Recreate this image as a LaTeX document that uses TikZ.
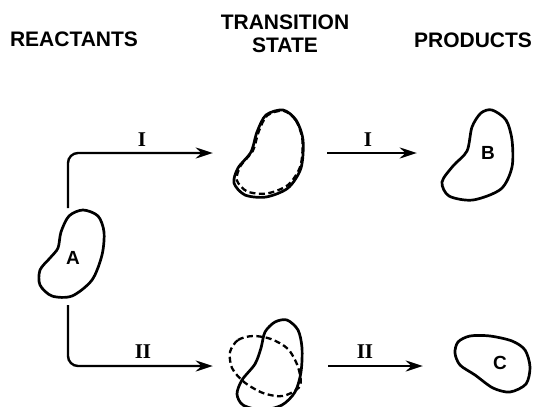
\documentclass[tikz,border=0pt]{standalone}
\usepackage{fontspec}
\setsansfont{Liberation Sans}
\setmainfont{Liberation Serif}
\usetikzlibrary{arrows.meta}
\tikzset{
  bean/.style={line width=2.7pt, line join=round},
  tsdash/.style={line width=2.3pt, dash pattern=on 6pt off 3.5pt},
  flow/.style={line width=2.4pt, -{Stealth[length=17pt, width=11pt]}, rounded corners=10pt},
  head/.style={inner sep=0pt, align=center, font=\sffamily\bfseries\fontsize{21}{23}\selectfont},
  beanlbl/.style={inner sep=0pt, font=\sffamily\bfseries\fontsize{19}{20}\selectfont},
  route/.style={inner sep=0pt, font=\rmfamily\bfseries\fontsize{21}{22}\selectfont},
  hold/.style={minimum width=70pt, minimum height=88pt, inner sep=0pt},
}
\begin{document}
\begin{tikzpicture}[x=1pt, y=-1pt]
  \useasboundingbox (0,0) rectangle (539,407);
  % column headings
  \node[head] (react) at (74,39) {REACTANTS};
  \node[head] (trans) at (285,33.5) {TRANSITION\\STATE};
  \node[head] (prod)  at (473,40) {PRODUCTS};
  % reactant
  \draw[bean] plot[smooth cycle] coordinates {(83,210) (98,216) (104,232) (102,255) (92,280) (72,296) (52,296) (40,285) (40,270) (50,258) (58,248) (61,232) (69,216)};
  \node[beanlbl] (A) at (73,258) {A};
  % transition states
  \draw[bean] plot[smooth cycle] coordinates {(283,110) (296,120) (303,140) (301,168) (288,188) (266,197) (245,195) (234,183) (238,168) (251,152) (257,132) (266,115)};
  \draw[tsdash, shift={(290,125)}, scale=0.95, shift={(-290,-125)}] plot[smooth cycle] coordinates {(283,110) (296,120) (303,140) (301,168) (288,188) (266,197) (245,195) (234,183) (238,168) (251,152) (257,132) (266,115)};
  \draw[bean] plot[smooth cycle] coordinates {(287,320) (298,330) (302,348) (301,372) (295,392) (282,405) (262,410) (243,405) (237,394) (242,380) (255,364) (261,348) (265,332) (275,322)};
  \draw[tsdash] plot[smooth cycle] coordinates {(230,352) (238,340) (253,336) (271,339) (288,349) (298,367) (300,386) (283,396) (263,393) (244,382) (232,368)};
  % products
  \draw[bean] plot[smooth cycle] coordinates {(492,110) (506,120) (512,140) (512,167) (501,189) (473,200) (449,196) (442,182) (453,166) (467,151) (472,127) (481,113)};
  \node[beanlbl] (B) at (488,153) {B};
  \draw[bean] plot[smooth cycle] coordinates {(458,342) (470,336) (490,336) (512,341) (525,350) (530,367) (526,384) (510,392) (493,388) (475,375) (460,365) (455,353)};
  \node[beanlbl] (C) at (500,363) {C};
  % arrow ends
  \node[hold] (tsI)   at (268,153) {};
  \node[hold] (tsII)  at (268,366) {};
  \node[hold] (prodB) at (477,153) {};
  \node[hold, minimum width=76pt] (prodC) at (492,366) {};
  \coordinate (A-top) at (68,208);
  \coordinate (A-bot) at (68,305);
  % pathways
  \draw[flow, shorten >=20pt] (A-top) |- (tsI.west);
  \draw[flow, shorten <=24pt, shorten >=25pt] (tsI.east) -- (prodB.west);
  \draw[flow, shorten >=20pt] (A-bot) |- (tsII.west);
  \draw[flow, shorten <=25pt, shorten >=31pt] (tsII.east) -- (prodC.west);
  \node[route] (r1) at (142,140) {I};
  \node[route] (r2) at (368,140) {I};
  \node[route] (r3) at (143,352) {II};
  \node[route] (r4) at (365,352) {II};
\end{tikzpicture}
\end{document}
